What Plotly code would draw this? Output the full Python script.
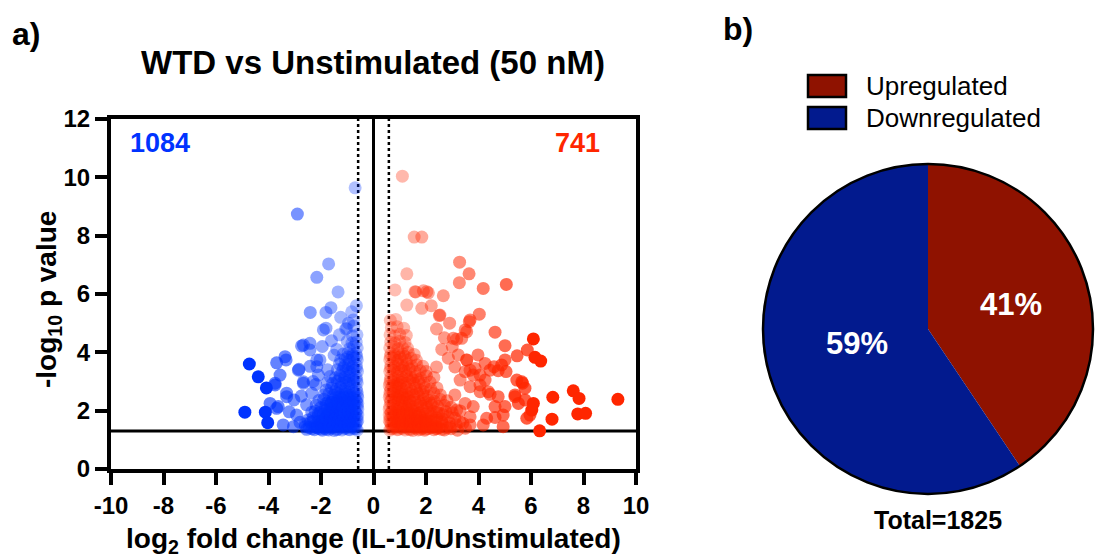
import plotly.graph_objects as go

# ---------------- data ----------------
# Downregulated genes (log2 FC, -log10 p)
down_pts = [
    # sparse / outlying points
    (-4.73, 3.60), (-4.39, 3.16), (-4.08, 2.78), (-4.90, 1.95), (-4.12, 1.95), (-4.03, 1.59),
    (-2.90, 8.74), (-0.70, 9.64), (-1.71, 7.03), (-2.16, 6.57), (-1.35, 6.07),
    (-2.41, 5.37), (-1.62, 5.53), (-1.81, 5.37), (-0.83, 5.39), (-1.81, 4.83), (-1.06, 4.80),
    (-2.74, 4.22), (-2.42, 4.31), (-3.37, 3.85), (-3.69, 3.64), (-3.33, 3.74), (-3.56, 3.22),
    (-2.84, 3.42), (-3.75, 2.88), (-2.67, 2.94), (-3.94, 2.25), (-3.63, 2.14), (-3.31, 2.60),
    (-3.44, 1.51), (-3.21, 1.96), (-2.93, 1.85), (-2.42, 3.52), (-2.16, 3.74), (-2.10, 3.22),
    (-1.91, 4.77), (-1.02, 4.82), (-0.77, 5.11), (-2.67, 4.25), (-2.42, 4.08), (-2.86, 3.39),
    (-3.75, 2.94), (-3.69, 2.08), (-3.31, 2.48), (-3.03, 2.37), (-2.67, 2.99), (-2.16, 3.51),
    (-2.04, 3.74), (-2.60, 1.45), (-2.80, 1.60), (-2.55, 2.20), (-2.35, 2.60), (-2.30, 3.00),
    (-1.95, 4.20), (-1.60, 4.40), (-1.30, 4.60), (-0.95, 5.00), (-1.25, 5.20), (-0.65, 5.60),
    (-0.75, 4.90), (-2.75, 2.50), (-3.05, 1.45), (-2.20, 2.90), (-1.75, 3.40), (-1.50, 3.90),
    (-1.40, 4.10),
    # dense cluster
    (-0.62, 1.33), (-0.75, 1.38), (-0.90, 1.35), (-1.05, 1.41), (-1.20, 1.34), (-1.35, 1.37),
    (-1.50, 1.32), (-1.65, 1.40), (-1.80, 1.36), (-1.95, 1.33), (-2.10, 1.39), (-2.25, 1.35),
    (-2.45, 1.42),
    (-0.66, 1.38), (-0.80, 1.42), (-0.95, 1.36), (-1.10, 1.39), (-1.25, 1.43), (-1.40, 1.35),
    (-1.55, 1.41), (-1.70, 1.34), (-1.85, 1.40), (-2.00, 1.37), (-2.15, 1.42), (-2.35, 1.38),
    (-2.55, 1.36),
    (-0.70, 1.45), (-0.85, 1.47), (-1.00, 1.44), (-1.15, 1.48), (-1.30, 1.45), (-1.45, 1.47),
    (-1.60, 1.44), (-1.75, 1.46), (-1.90, 1.43), (-2.05, 1.47), (-2.20, 1.44),
    (-0.68, 1.55), (-0.82, 1.52), (-0.97, 1.58), (-1.12, 1.54), (-1.27, 1.60), (-1.42, 1.53),
    (-1.57, 1.57), (-1.72, 1.51), (-1.87, 1.59), (-2.02, 1.55), (-2.20, 1.52), (-2.40, 1.60),
    (-2.60, 1.54),
    (-0.64, 1.60), (-0.79, 1.62), (-0.94, 1.60), (-1.09, 1.61), (-1.24, 1.58), (-1.39, 1.62),
    (-1.54, 1.60), (-1.69, 1.62), (-1.84, 1.58), (-2.00, 1.61), (-2.30, 1.64), (-2.50, 1.68),
    (-0.60, 1.65), (-0.74, 1.67), (-0.88, 1.64), (-1.02, 1.68), (-1.17, 1.65), (-1.32, 1.66),
    (-1.47, 1.64), (-1.62, 1.68), (-1.78, 1.65), (-1.94, 1.67), (-2.10, 1.63),
    (-0.63, 1.75), (-0.76, 1.79), (-0.91, 1.72), (-1.06, 1.77), (-1.21, 1.74), (-1.36, 1.80),
    (-1.51, 1.73), (-1.66, 1.78), (-1.81, 1.75), (-1.96, 1.71), (-2.12, 1.80), (-2.30, 1.76),
    (-0.60, 1.85), (-0.73, 1.87), (-0.87, 1.84), (-1.00, 1.88), (-1.15, 1.85), (-1.30, 1.86),
    (-1.45, 1.84), (-1.60, 1.88), (-1.76, 1.85), (-1.92, 1.87),
    (-0.66, 1.90), (-0.82, 1.90), (-0.98, 1.91), (-1.13, 1.89), (-1.28, 1.92), (-1.43, 1.89),
    (-1.58, 1.91), (-1.74, 1.93), (-2.10, 1.90), (-2.35, 1.95),
    (-0.67, 1.95), (-0.81, 1.92), (-0.96, 1.98), (-1.11, 1.94), (-1.26, 2.00), (-1.41, 1.93),
    (-1.56, 1.97), (-1.71, 1.91), (-1.86, 1.99), (-2.03, 1.94), (-2.22, 1.98),
    (-0.60, 2.05), (-0.72, 2.07), (-0.86, 2.04), (-1.00, 2.08), (-1.14, 2.05), (-1.29, 2.06),
    (-1.44, 2.04), (-1.60, 2.07), (-1.76, 2.05),
    (-0.62, 2.15), (-0.76, 2.19), (-0.90, 2.12), (-1.05, 2.17), (-1.20, 2.14), (-1.35, 2.20),
    (-1.50, 2.13), (-1.65, 2.18), (-1.82, 2.15), (-2.00, 2.11), (-2.18, 2.19),
    (-0.60, 2.25), (-0.73, 2.27), (-0.87, 2.24), (-1.00, 2.28), (-1.15, 2.25), (-1.30, 2.26),
    (-1.46, 2.24), (-1.62, 2.27),
    (-0.64, 2.30), (-0.79, 2.30), (-0.94, 2.29), (-1.09, 2.31), (-1.24, 2.28), (-1.39, 2.30),
    (-1.60, 2.29), (-1.80, 2.25),
    (-0.66, 2.35), (-0.80, 2.32), (-0.95, 2.38), (-1.10, 2.34), (-1.25, 2.40), (-1.40, 2.33),
    (-1.55, 2.37), (-1.72, 2.31), (-1.90, 2.39), (-2.08, 2.35),
    (-0.60, 2.45), (-0.72, 2.47), (-0.86, 2.44), (-1.00, 2.48), (-1.15, 2.45), (-1.30, 2.46),
    (-1.46, 2.44),
    (-0.61, 2.55), (-0.75, 2.59), (-0.90, 2.52), (-1.05, 2.57), (-1.20, 2.54), (-1.36, 2.60),
    (-1.52, 2.53), (-1.70, 2.58), (-1.88, 2.55),
    (-0.63, 2.65), (-0.78, 2.66), (-0.93, 2.64), (-1.08, 2.67), (-1.24, 2.65), (-1.45, 2.66),
    (-0.65, 2.75), (-0.80, 2.72), (-0.95, 2.78), (-1.10, 2.74), (-1.26, 2.80), (-1.42, 2.73),
    (-1.60, 2.77), (-1.80, 2.71),
    (-0.62, 2.95), (-0.76, 2.99), (-0.91, 2.92), (-1.06, 2.97), (-1.22, 2.94), (-1.38, 3.00),
    (-1.56, 2.93), (-1.75, 2.97),
    (-0.64, 3.05), (-0.79, 3.06), (-0.94, 3.04), (-1.10, 3.05), (-1.30, 3.07),
    (-0.66, 3.15), (-0.80, 3.12), (-0.95, 3.18), (-1.10, 3.14), (-1.27, 3.20), (-1.45, 3.13),
    (-1.65, 3.17),
    (-0.61, 3.35), (-0.75, 3.39), (-0.90, 3.32), (-1.05, 3.37), (-1.20, 3.34), (-1.38, 3.40),
    (-0.65, 3.45), (-0.80, 3.46), (-0.96, 3.44), (-1.15, 3.47),
    (-0.65, 3.55), (-0.80, 3.52), (-0.95, 3.58), (-1.10, 3.54), (-1.30, 3.60),
    (-0.62, 3.75), (-0.76, 3.79), (-0.92, 3.72), (-1.08, 3.77), (-1.25, 3.74),
    (-0.64, 3.85), (-0.80, 3.86), (-1.00, 3.84),
    (-0.66, 3.95), (-0.80, 3.92), (-0.97, 3.98), (-1.15, 3.94),
    (-0.62, 4.15), (-0.76, 4.19), (-0.92, 4.12),
    (-0.66, 4.35), (-0.82, 4.32), (-1.00, 4.38),
    (-0.63, 4.60), (-0.80, 4.56),
]

# Upregulated genes (log2 FC, -log10 p)
up_pts = [
    # sparse / outlying points
    (1.10, 10.04), (1.55, 7.95), (1.84, 7.95), (3.28, 7.09), (3.64, 6.69), (1.27, 6.69),
    (3.27, 6.39), (4.18, 6.19), (5.06, 6.33), (0.82, 6.14), (1.61, 6.07), (1.90, 6.11),
    (2.09, 6.04), (2.66, 5.94), (1.27, 5.62), (1.84, 5.51), (4.03, 5.31), (2.53, 5.28),
    (3.68, 5.11), (3.55, 4.71), (3.36, 4.48), (4.63, 4.69), (5.01, 4.23), (5.47, 3.88),
    (5.86, 4.08), (6.09, 4.46), (6.15, 3.83), (6.37, 3.70), (3.98, 3.91), (4.25, 3.62),
    (4.59, 3.51), (4.88, 3.57), (5.01, 3.74), (4.44, 3.39), (4.75, 3.37), (5.05, 3.34),
    (4.06, 3.22), (4.25, 3.05), (5.46, 3.05), (5.68, 2.94), (5.77, 2.77), (4.06, 2.65),
    (4.37, 2.65), (4.44, 2.56), (4.75, 2.48), (5.39, 2.48), (5.77, 2.37), (6.09, 2.25),
    (6.03, 2.02), (5.96, 1.85), (5.84, 1.74), (4.63, 2.14), (5.01, 2.14), (4.94, 1.85),
    (4.63, 1.77), (4.31, 1.74), (4.18, 1.51), (4.94, 1.45), (6.83, 2.46), (7.61, 2.68),
    (7.83, 2.42), (9.31, 2.39), (6.80, 1.71), (7.78, 1.89), (8.08, 1.91), (6.33, 1.31),
    (3.55, 3.74), (3.87, 3.45), (3.49, 3.34), (4.06, 2.88), (5.52, 2.25), (5.39, 2.54),
    (5.65, 2.99), (3.17, 4.45), (3.49, 4.77), (3.65, 5.05), (2.51, 5.26), (1.58, 6.08),
    (2.03, 6.08), (3.04, 4.48), (3.23, 3.91), (3.55, 3.74), (3.68, 3.39), (3.80, 3.22),
    (3.30, 3.05), (3.68, 2.82), (3.10, 2.54), (3.49, 2.25), (3.80, 2.14), (3.17, 2.02),
    (3.68, 1.79), (3.30, 1.62), (3.68, 1.51), (2.91, 1.45), (2.41, 1.40), (2.20, 5.60),
    (2.90, 5.00), (2.40, 4.80), (2.70, 4.50), (3.00, 4.20), (2.60, 4.10), (2.85, 3.80),
    (3.10, 3.50), (2.40, 3.50),
    # dense cluster
    (0.62, 1.33), (0.75, 1.38), (0.90, 1.35), (1.05, 1.41), (1.20, 1.34), (1.35, 1.37),
    (1.50, 1.32), (1.65, 1.40), (1.80, 1.36), (1.95, 1.33), (2.10, 1.39), (2.30, 1.35),
    (2.50, 1.42), (2.70, 1.34), (2.95, 1.38), (3.20, 1.33), (3.50, 1.40),
    (0.66, 1.38), (0.80, 1.42), (0.95, 1.36), (1.10, 1.39), (1.25, 1.43), (1.40, 1.35),
    (1.55, 1.41), (1.70, 1.34), (1.85, 1.40), (2.00, 1.37), (2.20, 1.42), (2.40, 1.38),
    (2.60, 1.36), (2.80, 1.41),
    (0.70, 1.45), (0.85, 1.47), (1.00, 1.44), (1.15, 1.48), (1.30, 1.45), (1.45, 1.47),
    (1.60, 1.44), (1.75, 1.46), (1.90, 1.43), (2.05, 1.47), (2.20, 1.44), (2.40, 1.46),
    (0.68, 1.55), (0.82, 1.52), (0.97, 1.58), (1.12, 1.54), (1.27, 1.60), (1.42, 1.53),
    (1.57, 1.57), (1.72, 1.51), (1.90, 1.59), (2.08, 1.55), (2.25, 1.52), (2.45, 1.60),
    (2.65, 1.54), (2.90, 1.58), (3.15, 1.52), (3.40, 1.57),
    (0.64, 1.60), (0.79, 1.62), (0.94, 1.60), (1.09, 1.61), (1.24, 1.58), (1.39, 1.62),
    (1.54, 1.60), (1.69, 1.62), (1.84, 1.58), (2.00, 1.61), (2.20, 1.64), (2.40, 1.68),
    (2.60, 1.62),
    (0.60, 1.65), (0.74, 1.67), (0.88, 1.64), (1.02, 1.68), (1.17, 1.65), (1.32, 1.66),
    (1.47, 1.64), (1.62, 1.68), (1.78, 1.65), (1.95, 1.67), (2.12, 1.63),
    (0.63, 1.75), (0.77, 1.79), (0.92, 1.72), (1.07, 1.77), (1.22, 1.74), (1.37, 1.80),
    (1.52, 1.73), (1.68, 1.78), (1.85, 1.75), (2.02, 1.71), (2.20, 1.80), (2.40, 1.76),
    (2.62, 1.72), (2.85, 1.79), (3.10, 1.74),
    (0.60, 1.85), (0.73, 1.87), (0.87, 1.84), (1.00, 1.88), (1.15, 1.85), (1.30, 1.86),
    (1.45, 1.84), (1.60, 1.88), (1.76, 1.85),
    (0.66, 1.90), (0.82, 1.90), (0.98, 1.91), (1.13, 1.89), (1.28, 1.92), (1.43, 1.89),
    (1.60, 1.91), (1.80, 1.93), (2.00, 1.88), (2.20, 1.90), (2.40, 1.95), (2.65, 1.86),
    (0.67, 1.95), (0.81, 1.92), (0.96, 1.98), (1.11, 1.94), (1.26, 2.00), (1.41, 1.93),
    (1.57, 1.97), (1.73, 1.91), (1.90, 1.99), (2.08, 1.94), (2.28, 1.98), (2.50, 1.92),
    (2.75, 1.97), (3.00, 1.93), (3.30, 1.99),
    (0.60, 2.05), (0.72, 2.07), (0.86, 2.04), (1.00, 2.08), (1.14, 2.05), (1.29, 2.06),
    (1.44, 2.04),
    (0.62, 2.15), (0.76, 2.19), (0.91, 2.12), (1.06, 2.17), (1.21, 2.14), (1.36, 2.20),
    (1.52, 2.13), (1.68, 2.18), (1.85, 2.15), (2.03, 2.11), (2.22, 2.19), (2.45, 2.14),
    (2.70, 2.18), (2.95, 2.12),
    (0.64, 2.30), (0.79, 2.30), (0.94, 2.29), (1.09, 2.31), (1.24, 2.28), (1.40, 2.30),
    (1.60, 2.29), (1.80, 2.25), (2.00, 2.27), (2.20, 2.26),
    (0.66, 2.35), (0.80, 2.32), (0.95, 2.38), (1.10, 2.34), (1.25, 2.40), (1.40, 2.33),
    (1.56, 2.37), (1.73, 2.31), (1.90, 2.39), (2.10, 2.35), (2.32, 2.32), (2.55, 2.38),
    (2.80, 2.34),
    (0.60, 2.45), (0.72, 2.47), (0.86, 2.44), (1.00, 2.48), (1.15, 2.45), (1.30, 2.46),
    (0.62, 2.55), (0.76, 2.59), (0.91, 2.52), (1.06, 2.57), (1.21, 2.54), (1.37, 2.60),
    (1.53, 2.53), (1.70, 2.58), (1.88, 2.55), (2.08, 2.51), (2.30, 2.59), (2.55, 2.54),
    (0.63, 2.65), (0.78, 2.66), (0.93, 2.64), (1.08, 2.67), (1.24, 2.65), (1.45, 2.66),
    (1.65, 2.64), (1.90, 2.66),
    (0.66, 2.75), (0.80, 2.72), (0.95, 2.78), (1.10, 2.74), (1.26, 2.80), (1.42, 2.73),
    (1.60, 2.77), (1.78, 2.71), (1.97, 2.79), (2.18, 2.74), (2.42, 2.78),
    (0.60, 2.85), (0.73, 2.87), (0.87, 2.84), (1.01, 2.88),
    (0.62, 2.95), (0.76, 2.99), (0.91, 2.92), (1.06, 2.97), (1.22, 2.94), (1.38, 3.00),
    (1.55, 2.93), (1.73, 2.97), (1.92, 2.94), (2.15, 2.98),
    (0.64, 3.05), (0.79, 3.06), (0.94, 3.04), (1.10, 3.05), (1.30, 3.07), (1.50, 3.05),
    (1.70, 3.06),
    (0.66, 3.15), (0.80, 3.12), (0.95, 3.18), (1.10, 3.14), (1.26, 3.20), (1.43, 3.13),
    (1.60, 3.17), (1.80, 3.11), (2.02, 3.19), (2.30, 3.14),
    (0.62, 3.35), (0.76, 3.39), (0.91, 3.32), (1.07, 3.37), (1.23, 3.34), (1.40, 3.40),
    (1.58, 3.33), (1.78, 3.37), (2.00, 3.34),
    (0.65, 3.45), (0.80, 3.46), (0.96, 3.44), (1.15, 3.47), (1.35, 3.45),
    (0.66, 3.55), (0.80, 3.52), (0.95, 3.58), (1.10, 3.54), (1.27, 3.60), (1.45, 3.53),
    (1.65, 3.57), (1.88, 3.52),
    (0.62, 3.75), (0.76, 3.79), (0.92, 3.72), (1.08, 3.77), (1.25, 3.74), (1.43, 3.80),
    (1.63, 3.73),
    (0.64, 3.85), (0.80, 3.86), (1.00, 3.84), (1.20, 3.86),
    (0.66, 3.95), (0.80, 3.92), (0.96, 3.98), (1.13, 3.94), (1.32, 4.00), (1.55, 3.93),
    (0.62, 4.15), (0.77, 4.19), (0.93, 4.12), (1.10, 4.17), (1.30, 4.14),
    (0.66, 4.35), (0.82, 4.32), (1.00, 4.38), (1.20, 4.34),
    (0.63, 4.60), (0.80, 4.56), (1.00, 4.62), (1.25, 4.58),
    (0.68, 4.85), (0.90, 4.88), (1.15, 4.83),
    (0.64, 5.10), (0.85, 5.13),
]

n_up = 741
n_down = 1084
pie_labels = ["Upregulated", "Downregulated"]
pie_values = [n_up, n_down]
x_ticks = [-10, -8, -6, -4, -2, 0, 2, 4, 6, 8, 10]
y_ticks = [0, 2, 4, 6, 8, 10, 12]
p_cut = 1.301      # -log10(0.05)
fc_cut = 0.585     # log2(1.5)

# ---------------- styling helpers ----------------
W, H = 1095, 559
FONT = "Liberation Sans, Arial, Helvetica, sans-serif"
BLUE = (0, 51, 255)
RED = (255, 38, 0)
PIE_RED = "#8f1200"
PIE_BLUE = "#021a8e"


def px(x):
    return x / W


def py(y):
    return 1 - y / H


def alpha_down(x):
    a = abs(x)
    return 1.0 if a >= 4 else min(0.75, 0.30 + 0.10 * (a - 0.6))


def alpha_up(x):
    return 1.0 if x >= 6 else min(0.8, 0.28 + 0.09 * (x - 0.6))


dx = [p[0] for p in down_pts]
dy = [p[1] for p in down_pts]
ux = [p[0] for p in up_pts]
uy = [p[1] for p in up_pts]

# draw lighter points first so darker ones end up on top
d_order = sorted(range(len(dx)), key=lambda i: alpha_down(dx[i]))
u_order = sorted(range(len(ux)), key=lambda i: alpha_up(ux[i]))

fig = go.Figure()

fig.add_trace(go.Scatter(
    x=[dx[i] for i in d_order], y=[dy[i] for i in d_order], mode="markers",
    marker=dict(size=13, color=[f"rgba({BLUE[0]},{BLUE[1]},{BLUE[2]},{alpha_down(dx[i]):.3f})" for i in d_order],
                line=dict(width=0)),
    showlegend=False, hoverinfo="skip", xaxis="x", yaxis="y"))

fig.add_trace(go.Scatter(
    x=[ux[i] for i in u_order], y=[uy[i] for i in u_order], mode="markers",
    marker=dict(size=13, color=[f"rgba({RED[0]},{RED[1]},{RED[2]},{alpha_up(ux[i]):.3f})" for i in u_order],
                line=dict(width=0)),
    showlegend=False, hoverinfo="skip", xaxis="x", yaxis="y"))

# pie
pie_cx, pie_cy, pie_r = 928, 329, 165
fig.add_trace(go.Pie(
    labels=pie_labels, values=pie_values, sort=False, direction="clockwise", rotation=0,
    marker=dict(colors=[PIE_RED, PIE_BLUE], line=dict(width=0)),
    textinfo="none", showlegend=False, hoverinfo="skip",
    domain=dict(x=[px(pie_cx - pie_r), px(pie_cx + pie_r)],
                y=[py(pie_cy + pie_r), py(pie_cy - pie_r)])))

axis_font = dict(family=FONT, size=24, color="black", weight="bold")
fig.update_layout(
    width=W, height=H, margin=dict(l=0, r=0, t=0, b=0),
    paper_bgcolor="white", plot_bgcolor="white",
    xaxis=dict(domain=[px(111), px(636)], range=[-10, 10], tickvals=x_ticks,
               ticktext=[str(v) for v in x_ticks],
               ticks="outside", ticklen=12, tickwidth=4, tickcolor="black",
               showline=True, linewidth=4, linecolor="black", mirror=True,
               showgrid=False, zeroline=False, tickfont=axis_font, automargin=False),
    yaxis=dict(domain=[py(469), py(119)], range=[0, 12], tickvals=y_ticks,
               ticktext=[str(v) for v in y_ticks],
               ticks="outside", ticklen=12, tickwidth=4, tickcolor="black",
               showline=True, linewidth=4, linecolor="black", mirror=True,
               showgrid=False, zeroline=False, tickfont=axis_font, automargin=False),
)

shapes = [
    dict(type="line", xref="x", yref="y", x0=-10, x1=10, y0=p_cut, y1=p_cut,
         line=dict(color="black", width=3), layer="below"),
    dict(type="line", xref="x", yref="y", x0=0, x1=0, y0=0, y1=12,
         line=dict(color="black", width=3), layer="below"),
    dict(type="line", xref="x", yref="y", x0=-fc_cut, x1=-fc_cut, y0=0, y1=12,
         line=dict(color="black", width=2.5, dash="dot"), layer="below"),
    dict(type="line", xref="x", yref="y", x0=fc_cut, x1=fc_cut, y0=0, y1=12,
         line=dict(color="black", width=2.5, dash="dot"), layer="below"),
    # pie outline
    dict(type="circle", xref="paper", yref="paper",
         x0=px(pie_cx - pie_r), x1=px(pie_cx + pie_r),
         y0=py(pie_cy + pie_r), y1=py(pie_cy - pie_r),
         line=dict(color="black", width=2.5)),
    # legend boxes
    dict(type="rect", xref="paper", yref="paper", x0=px(808), x1=px(846), y0=py(97), y1=py(75),
         fillcolor=PIE_RED, line=dict(color="black", width=2.5)),
    dict(type="rect", xref="paper", yref="paper", x0=px(808), x1=px(846), y0=py(129), y1=py(107),
         fillcolor=PIE_BLUE, line=dict(color="black", width=2.5)),
]
fig.update_layout(shapes=shapes)


def ann(text, x, y, size, color="black", bold=True, xanchor="center", angle=0):
    return dict(text=text, x=px(x), y=py(y), xref="paper", yref="paper", showarrow=False,
                xanchor=xanchor, yanchor="middle", textangle=angle,
                font=dict(family=FONT, size=size, color=color, weight="bold" if bold else "normal"))


total = n_up + n_down
pct_up = round(100 * n_up / total)
pct_down = round(100 * n_down / total)

annotations = [
    ann("a)", 26, 34, 32),
    ann("b)", 738, 29, 32),
    ann("WTD vs Unstimulated (50 nM)", 373, 63, 33),
    ann("-log<sub>10</sub> p value", 48, 300, 28, angle=-90),
    ann("log<sub>2</sub> fold change (IL-10/Unstimulated)", 373, 540, 28),
    ann(str(n_down), 160, 143, 27, color=f"rgb{BLUE}"),
    ann(str(n_up), 577, 143, 27, color=f"rgb{RED}"),
    ann(pie_labels[0], 864, 86, 26, bold=False, xanchor="left"),
    ann(pie_labels[1], 864, 118, 26, bold=False, xanchor="left"),
    ann(f"{pct_up}%", 1011, 304, 31, color="white"),
    ann(f"{pct_down}%", 857, 343, 31, color="white"),
    ann(f"Total={total}", 938, 520, 25),
]
fig.update_layout(annotations=annotations)

fig.write_html("out.html")
